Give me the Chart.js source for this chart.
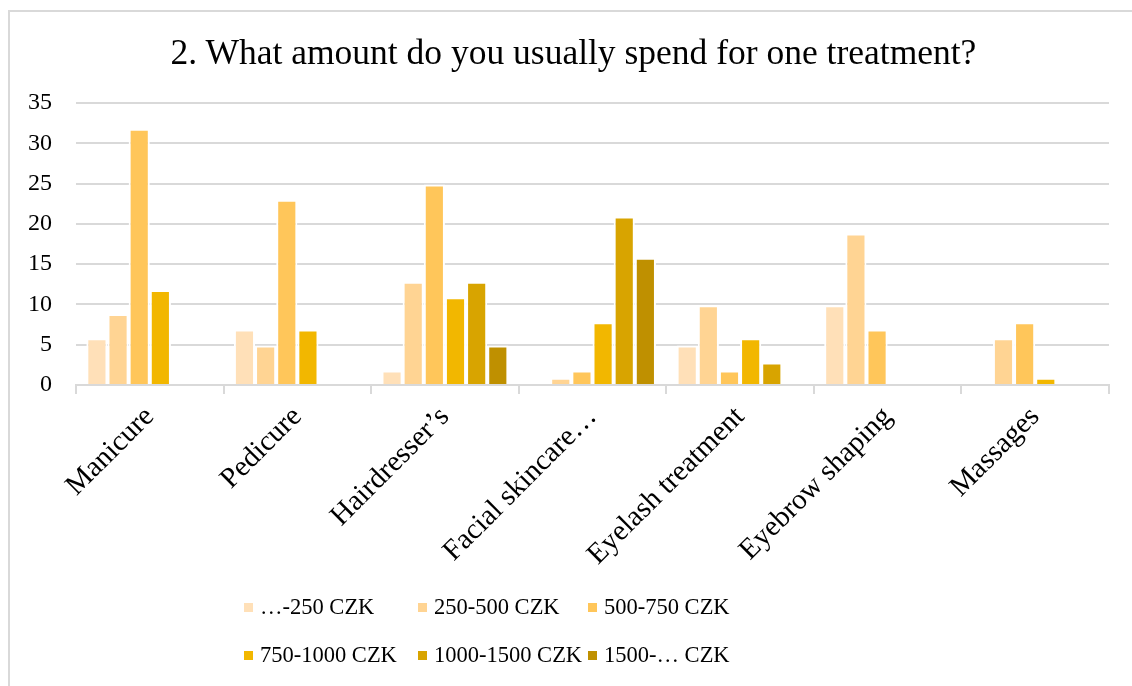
<!DOCTYPE html>
<html>
<head>
<meta charset="utf-8">
<script src="https://cdn.jsdelivr.net/npm/chart.js@4.4.1/dist/chart.umd.min.js"></script>
<style>
  html, body { margin: 0; padding: 0; background: #fff; }
  #frame {
    position: relative;
    width: 1132px;
    height: 686px;
    overflow: hidden;
    font-family: "Liberation Serif", "Times New Roman", serif;
    color: #000;
  }
  #frame::before {
    content: "";
    position: absolute;
    left: 8px; top: 10px; right: -4px; bottom: -4px;
    border-top: 2px solid #d9d9d9;
    border-left: 2px solid #d9d9d9;
    pointer-events: none;
  }
  #spend-chart { position: absolute; left: 0; top: 0; }
  #title {
    position: absolute;
    left: 0;
    width: 1147px;
    top: 31px;
    text-align: center;
    font-size: 35.5px;
    line-height: 42px;
    white-space: nowrap;
  }
  #legend {
    position: absolute;
    left: 244px;
    top: 594px;
    display: grid;
    grid-template-columns: 174px 170px auto;
    row-gap: 22px;
    font-size: 22.5px;
  }
  .legend-item { display: flex; align-items: center; white-space: nowrap; height: 26px; }
  .legend-box { width: 9px; height: 9px; margin-right: 7px; flex: none; }
</style>
</head>
<body>
<div id="frame">
  <canvas id="spend-chart" width="1132" height="686"></canvas>
  <div id="title"></div>
  <div id="legend"></div>
</div>
<script>
const TITLE = "2. What amount do you usually spend for one treatment?";

const treatments = [
  "Manicure",
  "Pedicure",
  "Hairdresser\u2019s",
  "Facial skincare\u2026",
  "Eyelash treatment",
  "Eyebrow shaping",
  "Massages",
];

const priceRanges = [
  "\u2026-250 CZK",
  "250-500 CZK",
  "500-750 CZK",
  "750-1000 CZK",
  "1000-1500 CZK",
  "1500-\u2026 CZK",
];

// one array per price range, in treatment order (null = no answer)
const upTo250 = [5.8, 6.9, 1.8, null, 4.9, 9.9, null];
const from250to500 = [8.8, 4.9, 12.8, 0.9, 9.9, 18.8, 5.8];
const from500to750 = [31.8, 23.0, 24.9, 1.8, 1.8, 6.9, 7.8];
const from750to1000 = [11.8, 6.9, 10.9, 7.8, 5.8, null, 0.9];
const from1000to1500 = [null, null, 12.8, 20.9, 2.8, null, null];
const from1500 = [null, null, 4.9, 15.8, null, null, null];

const yTicks = [0, 5, 10, 15, 20, 25, 30, 35];

const rangeColors = ["#ffe0b8", "#ffd493", "#ffc65a", "#f2b700", "#d8a400", "#bf9000"];

const seriesValues = [upTo250, from250to500, from500to750, from750to1000, from1000to1500, from1500];

const serif = "'Liberation Serif', 'Times New Roman', serif";
const gridColor = "#d9d9d9";

document.getElementById("title").textContent = TITLE;

const datasets = priceRanges.map((label, i) => ({
  label: label,
  data: seriesValues[i],
  backgroundColor: rangeColors[i],
  borderColor: "#ffffff",
  borderWidth: { top: 2, left: 2, right: 2, bottom: 0 },
  borderSkipped: "start",
  barPercentage: 1,
  categoryPercentage: 0.86,
}));

// html legend in three columns, built from the same series
const legendEl = document.getElementById("legend");
priceRanges.forEach((label, i) => {
  const item = document.createElement("div");
  item.className = "legend-item";
  const box = document.createElement("span");
  box.className = "legend-box";
  box.style.background = rangeColors[i];
  const text = document.createElement("span");
  text.textContent = label;
  item.appendChild(box);
  item.appendChild(text);
  legendEl.appendChild(item);
});

const ctx = document.getElementById("spend-chart").getContext("2d");
new Chart(ctx, {
  type: "bar",
  data: {
    labels: treatments,
    datasets: datasets,
  },
  options: {
    responsive: false,
    animation: false,
    events: [],
    layout: {
      padding: { left: 0, right: 23, top: 103, bottom: 0 },
    },
    scales: {
      x: {
        grid: {
          display: true,
          drawOnChartArea: false,
          drawTicks: true,
          tickLength: 9,
          color: gridColor,
          lineWidth: 2,
        },
        border: { display: true, color: gridColor, width: 2 },
        ticks: {
          color: "#000",
          font: { family: serif, size: 29 },
          minRotation: 45,
          maxRotation: 45,
          padding: 6,
        },
        afterFit: (scale) => {
          scale.height = 301;
        },
      },
      y: {
        min: 0,
        max: 35,
        afterBuildTicks: (scale) => {
          scale.ticks = yTicks.map((v) => ({ value: v }));
        },
        grid: {
          color: gridColor,
          lineWidth: 2,
          drawTicks: false,
        },
        border: { display: false },
        ticks: {
          color: "#000",
          font: { family: serif, size: 24 },
          padding: 24,
        },
        afterFit: (scale) => {
          scale.width = 76;
        },
      },
    },
    plugins: {
      legend: { display: false },
      tooltip: { enabled: false },
      title: { display: false },
    },
  },
});
</script>
</body>
</html>
